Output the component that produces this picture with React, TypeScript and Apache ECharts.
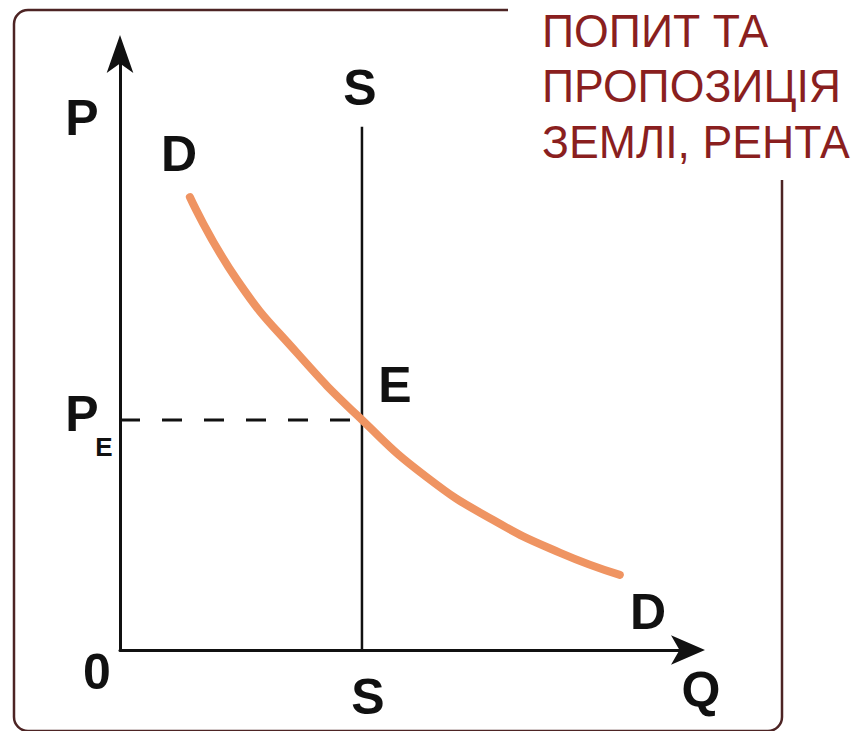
import React, { useEffect, useRef } from "react";
import * as echarts from "echarts";

// Quantity / price scale (0..100 on both axes)
const S_QUANTITY = 42.6;
const S_TOP = 87.8;
const P_E = 38.6;

const DEMAND_Q = [12.3, 20.6, 31.2, 42.6, 54.0, 65.7, 77.5, 88.0];
const DEMAND_P = [76.0, 62.1, 49.8, 38.6, 29.0, 21.8, 16.3, 12.6];

const TITLE_LINES = ["ПОПИТ ТА", "ПРОПОЗИЦІЯ", "ЗЕМЛІ, РЕНТА"];

const FONT = "'Liberation Sans', Arial, Helvetica, sans-serif";

export default function App() {
  const ref = useRef<HTMLDivElement>(null);

  useEffect(() => {
    if (!ref.current) return;
    const chart = echarts.init(ref.current, null, { renderer: "svg" });

    const demand = DEMAND_Q.map((q, i) => [q, DEMAND_P[i]]);
    const supply = [[S_QUANTITY, 0], [S_QUANTITY, S_TOP]];
    const dashed = [[0, P_E], [S_QUANTITY, P_E]];

    const lbl = (text: string, x: number, y: number, size = 50) => ({
      type: "text",
      x,
      y,
      z: 10,
      style: {
        text,
        fill: "#111",
        font: `bold ${size}px ${FONT}`,
        align: "center",
        verticalAlign: "middle",
      },
    });

    const titleColor = "#8a1f1f";
    const titleYs = [31, 86, 142];

    chart.setOption({
      animation: false,
      backgroundColor: "#fff",
      grid: { left: 120, top: 54, right: 164, bottom: 81 },
      xAxis: {
        type: "value",
        min: 0,
        max: 100,
        axisLine: {
          show: true,
          symbol: ["none", "arrow"],
          symbolSize: [22, 34],
          symbolOffset: [0, 17],
          lineStyle: { color: "#111", width: 3 },
        },
        axisTick: { show: false },
        axisLabel: { show: false },
        splitLine: { show: false },
      },
      yAxis: {
        type: "value",
        min: 0,
        max: 100,
        axisLine: {
          show: true,
          symbol: ["none", "arrow"],
          symbolSize: [20, 38],
          symbolOffset: [0, 19],
          lineStyle: { color: "#111", width: 3 },
        },
        axisTick: { show: false },
        axisLabel: { show: false },
        splitLine: { show: false },
      },
      series: [
        {
          name: "S",
          type: "line",
          data: supply,
          symbol: "none",
          lineStyle: { color: "#111", width: 2.5 },
          z: 3,
        },
        {
          name: "Pe",
          type: "line",
          data: dashed,
          symbol: "none",
          lineStyle: { color: "#111", width: 3, type: [20, 22] },
          z: 3,
        },
        {
          name: "D",
          type: "line",
          data: demand,
          smooth: true,
          symbol: "none",
          lineStyle: { color: "#ef9462", width: 8, cap: "round" },
          z: 4,
        },
      ],
      graphic: [
        {
          type: "rect",
          z: 0,
          shape: { x: 14, y: 10, width: 768, height: 721, r: 14 },
          style: { fill: "none", stroke: "#4d2424", lineWidth: 2.5 },
        },
        {
          type: "rect",
          z: 1,
          shape: { x: 508, y: 0, width: 344, height: 180 },
          style: { fill: "#fff" },
        },
        ...TITLE_LINES.map((t, i) => ({
          type: "text",
          x: 542,
          y: titleYs[i],
          scaleX: 0.95,
          z: 10,
          style: {
            text: t,
            fill: titleColor,
            font: `47px ${FONT}`,
            align: "left",
            verticalAlign: "middle",
          },
        })),
        lbl("P", 82, 118),
        lbl("D", 179, 154),
        lbl("S", 360, 88),
        lbl("E", 395, 385),
        lbl("P", 82, 414),
        lbl("E", 104, 447, 26),
        lbl("0", 97, 672),
        lbl("S", 368, 697),
        lbl("Q", 701, 690),
        lbl("D", 648, 612),
      ],
    });

    return () => chart.dispose();
  }, []);

  return (
    <div
      ref={ref}
      style={{ position: "absolute", left: 0, top: 0, width: 852, height: 731 }}
    />
  );
}
